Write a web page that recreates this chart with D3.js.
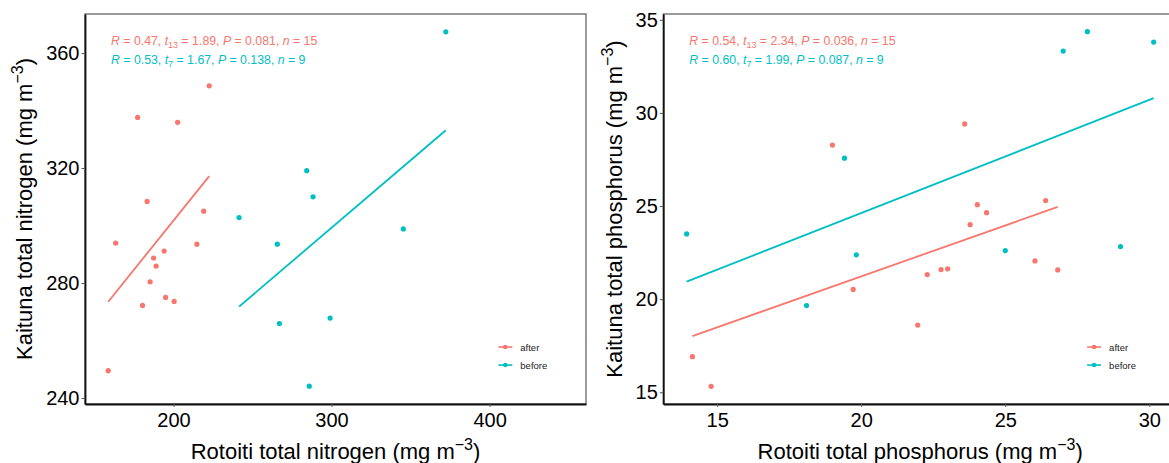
<!DOCTYPE html>
<html>
<head>
<meta charset="utf-8">
<script src="https://cdn.jsdelivr.net/npm/d3@7"></script>
<style>
  body { margin: 0; background: #fff; }
  svg text { font-family: "Liberation Sans", Arial, sans-serif; }
</style>
</head>
<body>
<svg id="chart" width="1169" height="463"></svg>
<script>
// nitrogen (mg m-3)
var nAfterX  = [158.7, 163.4, 177.3, 180.4, 183.3, 185.2, 187.4, 189.0, 194.1, 195.0, 200.4, 202.6, 214.8, 219.1, 222.6]
var nAfterY  = [249.5, 293.9, 337.6, 272.2, 308.4, 280.4, 288.7, 285.9, 291.1, 275.0, 273.6, 335.9, 293.5, 305.0, 348.6]
var nBeforeX = [241.5, 265.7, 267.0, 284.3, 285.9, 288.3, 299.1, 345.4, 372.3]
var nBeforeY = [302.8, 293.5, 265.9, 319.1, 244.1, 310.0, 267.8, 298.8, 367.4]

// phosphorus (mg m-3)
var pAfterX  = [14.14, 14.79, 19.00, 19.72, 21.96, 22.29, 22.77, 23.00, 23.59, 23.78, 24.03, 24.35, 26.03, 26.40, 26.82]
var pAfterY  = [16.91, 15.32, 28.27, 20.52, 18.61, 21.32, 21.59, 21.63, 29.41, 24.00, 25.07, 24.64, 22.05, 25.29, 21.57]
var pBeforeX = [13.94, 18.10, 19.42, 19.83, 25.00, 27.01, 27.85, 29.00, 30.15]
var pBeforeY = [23.50, 19.66, 27.57, 22.38, 22.61, 33.32, 34.36, 22.82, 33.80]

var groups = ['after', 'before']
var nXTicks = [200, 300, 400], nYTicks = [240, 280, 320, 360]
var pXTicks = [15, 20, 25, 30], pYTicks = [15, 20, 25, 30, 35]

// stats per group: R, df, t, P, n
var nStats = [['0.47', '13', '1.89', '0.081', '15'], ['0.53', '7', '1.67', '0.138', '9']]
var pStats = [['0.54', '13', '2.34', '0.036', '15'], ['0.60', '7', '1.99', '0.087', '9']]

;(function(){
  var svg = d3.select('#chart')
  var colors = ['#F8766D', '#00BFC4']

  var panels = [
    { left: 85, right: 586, top: 14, bottom: 404,
      xDomain: [144, 461], yDomain: [237.9, 373.6],
      xs: [nAfterX, nBeforeX], ys: [nAfterY, nBeforeY],
      xTicks: nXTicks, yTicks: nYTicks, stats: nStats,
      xTitle: 'Rotoiti total nitrogen', yTitle: 'Kaituna total nitrogen', yTitleX: 24 },
    { left: 663.3, right: 1177, top: 14, bottom: 404,
      xDomain: [13.13, 30.96], yDomain: [14.37, 35.31],
      xs: [pAfterX, pBeforeX], ys: [pAfterY, pBeforeY],
      xTicks: pXTicks, yTicks: pYTicks, stats: pStats,
      xTitle: 'Rotoiti total phosphorus', yTitle: 'Kaituna total phosphorus', yTitleX: 614 }
  ]

  function fitLine(xs, ys) {
    var mx = d3.mean(xs), my = d3.mean(ys)
    var sxy = d3.sum(xs, (v, i) => (v - mx) * (ys[i] - my))
    var sxx = d3.sum(xs, v => (v - mx) * (v - mx))
    var b = sxy / sxx, a = my - b * mx
    return d3.extent(xs).map(v => [v, a + b * v])
  }

  function unitTitle(sel, label) {
    sel.append('tspan').text(label + ' (mg m')
    sel.append('tspan').attr('font-size', 16).attr('dy', -9).text('\u22123')
    sel.append('tspan').attr('dy', 9).text(')')
  }

  panels.forEach(function(p) {
    var x = d3.scaleLinear().domain(p.xDomain).range([p.left, p.right])
    var y = d3.scaleLinear().domain(p.yDomain).range([p.bottom, p.top])
    var g = svg.append('g')

    // panel frame
    g.append('rect')
      .attr('x', p.left).attr('y', p.top)
      .attr('width', p.right - p.left).attr('height', p.bottom - p.top)
      .attr('fill', 'none').attr('stroke', '#666').attr('stroke-width', 1.3)

    var yAxis = g.append('g')
      .attr('transform', 'translate(' + p.left + ',0)')
      .call(d3.axisLeft(y).tickValues(p.yTicks).tickSize(3.5).tickSizeOuter(0).tickPadding(2))
    var xAxis = g.append('g')
      .attr('transform', 'translate(0,' + p.bottom + ')')
      .call(d3.axisBottom(x).tickValues(p.xTicks).tickSize(3).tickSizeOuter(0).tickPadding(6))

    ;[yAxis, xAxis].forEach(function(ax) {
      ax.select('.domain').attr('stroke', '#111').attr('stroke-width', 1.8)
      ax.selectAll('.tick line').attr('stroke', '#555')
      ax.selectAll('.tick text').attr('font-size', 20).attr('fill', '#000')
    })

    // regression lines + points
    var line = d3.line().x(d => x(d[0])).y(d => y(d[1]))
    groups.forEach(function(grp, gi) {
      g.append('path')
        .attr('d', line(fitLine(p.xs[gi], p.ys[gi])))
        .attr('fill', 'none').attr('stroke', colors[gi]).attr('stroke-width', 1.8)

      g.append('g').selectAll('circle')
        .data(p.xs[gi]).enter().append('circle')
        .attr('cx', d => x(d))
        .attr('cy', (d, i) => y(p.ys[gi][i]))
        .attr('r', 2.6)
        .attr('fill', colors[gi])
    })

    // stat labels
    p.stats.forEach(function(s, i) {
      var t = g.append('text')
        .attr('x', p.left + 26).attr('y', 44.5 + i * 19.8)
        .attr('fill', colors[i]).attr('font-size', 12.3)
      t.append('tspan').attr('font-style', 'italic').text('R')
      t.append('tspan').text(' = ' + s[0] + ', ')
      t.append('tspan').attr('font-style', 'italic').text('t')
      t.append('tspan').attr('font-size', 9).attr('dy', 3).text(s[1])
      t.append('tspan').attr('dy', -3).text(' = ' + s[2] + ', ')
      t.append('tspan').attr('font-style', 'italic').text('P')
      t.append('tspan').text(' = ' + s[3] + ', ')
      t.append('tspan').attr('font-style', 'italic').text('n')
      t.append('tspan').text(' = ' + s[4])
    })

    // legend
    var lx = p.left + 0.825 * (p.right - p.left)
    groups.forEach(function(grp, gi) {
      var ly = p.top + 0.854 * (p.bottom - p.top) + gi * 18
      g.append('line')
        .attr('x1', lx).attr('x2', lx + 14).attr('y1', ly).attr('y2', ly)
        .attr('stroke', colors[gi]).attr('stroke-width', 1.6)
      g.append('circle').attr('cx', lx + 7).attr('cy', ly).attr('r', 2.3).attr('fill', colors[gi])
      g.append('text')
        .attr('x', lx + 22).attr('y', ly + 3.5)
        .attr('font-size', 9.5).attr('fill', '#222')
        .text(grp)
    })

    // axis titles
    g.append('text')
      .attr('x', (p.left + p.right) / 2).attr('y', 459)
      .attr('text-anchor', 'middle').attr('font-size', 22)
      .call(unitTitle, p.xTitle)

    g.append('text')
      .attr('transform', 'translate(' + (p.yTitleX + 8) + ',' + ((p.top + p.bottom) / 2) + ') rotate(-90)')
      .attr('text-anchor', 'middle').attr('font-size', 22)
      .call(unitTitle, p.yTitle)
  })
})()
</script>
</body>
</html>
